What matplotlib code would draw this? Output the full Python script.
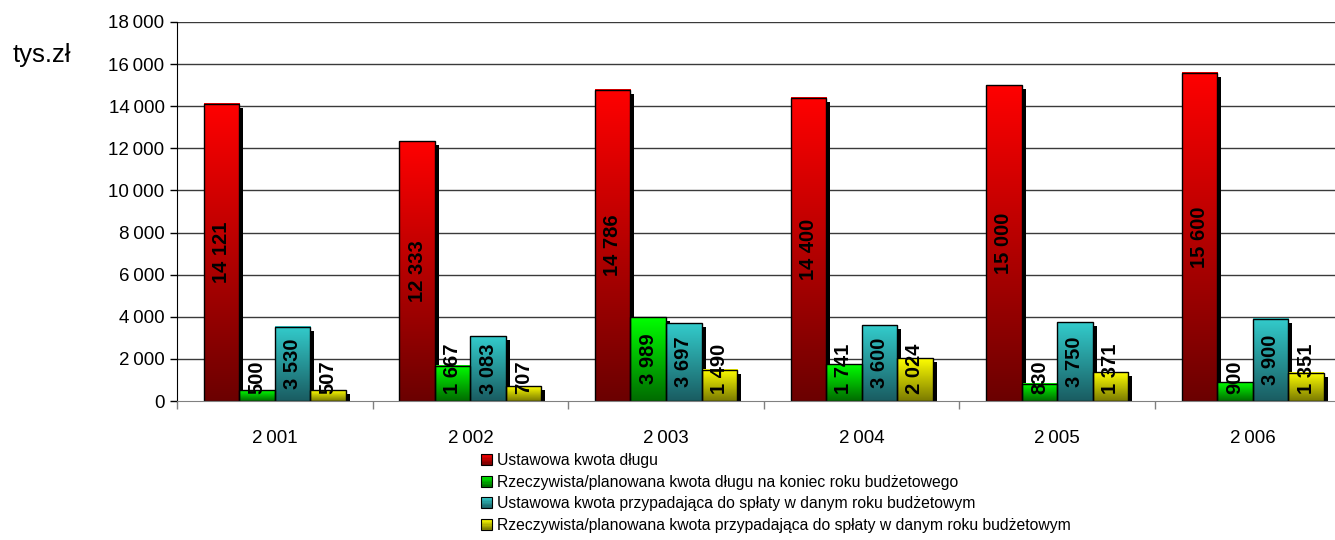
import numpy as np
import matplotlib
matplotlib.use("Agg")
import matplotlib.pyplot as plt
from matplotlib.patches import Rectangle, Patch
from matplotlib.legend_handler import HandlerBase
from matplotlib.colors import LinearSegmentedColormap

plt.rcParams['font.family'] = ['Liberation Sans', 'DejaVu Sans']

# ---- data (tys. zł) ----
years = ["2\u2009001", "2\u2009002", "2\u2009003", "2\u2009004", "2\u2009005", "2\u2009006"]
series_names = [
    "Ustawowa kwota długu",
    "Rzeczywista/planowana kwota długu na koniec roku budżetowego",
    "Ustawowa kwota przypadająca do spłaty w danym roku budżetowym",
    "Rzeczywista/planowana kwota przypadająca do spłaty w danym roku budżetowym",
]
debt_limit = [14121, 12333, 14786, 14400, 15000, 15600]
debt_actual = [500, 1667, 3989, 1741, 830, 900]
repay_limit = [3530, 3083, 3697, 3600, 3750, 3900]
repay_actual = [507, 707, 1490, 2024, 1371, 1351]
series = [debt_limit, debt_actual, repay_limit, repay_actual]
y_ticks = list(range(0, 18001, 2000))

# gradient colours: (top, bottom)
grad = [
    ((1.00, 0.00, 0.00), (0.42, 0.00, 0.00)),
    ((0.00, 1.00, 0.00), (0.00, 0.42, 0.00)),
    ((0.20, 0.80, 0.80), (0.10, 0.36, 0.38)),
    ((1.00, 1.00, 0.00), (0.48, 0.48, 0.00)),
]

W, H = 1335, 540
fig = plt.figure(figsize=(W / 100, H / 100), dpi=100)
fig.patch.set_facecolor("white")
ax_left, ax_bottom, ax_w, ax_h = 177, 139, 1173.6, 379
ax = fig.add_axes([ax_left / W, ax_bottom / H, ax_w / W, ax_h / H])
ax.set_xlim(-0.5, len(years) - 0.5)
ax.set_ylim(0, 18000)

px_x = (len(years)) / ax_w       # data units per pixel (x)
px_y = 18000 / ax_h               # data units per pixel (y)

# grid
for t in y_ticks[1:]:
    ax.axhline(t, color="#3a3a3a", lw=1.0, zorder=0.5)

bw = 0.1815
sh_dx, sh_dy = 4 * px_x, 4 * px_y
x = np.arange(len(years))

for j, vals in enumerate(series):
    top, bot = grad[j]
    cmap = LinearSegmentedColormap.from_list(f"g{j}", [bot, top])
    for i, v in enumerate(vals):
        x0 = x[i] + (j - 2) * bw
        # shadow
        ax.add_patch(Rectangle((x0 + sh_dx, 0), bw, max(v - sh_dy, 0),
                               facecolor="black", edgecolor="none", zorder=1))
        # gradient body
        ax.imshow(np.linspace(0, 1, 256).reshape(-1, 1), cmap=cmap,
                  extent=(x0, x0 + bw, 0, v), origin="lower",
                  aspect="auto", zorder=2, interpolation="bilinear")
        ax.add_patch(Rectangle((x0, 0), bw, v, facecolor="none",
                               edgecolor="black", lw=1.0, zorder=3))

ax.set_xlim(-0.5, len(years) - 0.5)
ax.set_ylim(0, 18000)

# value labels
def fmt(v):
    return f"{v:,}".replace(",", " ")

texts = []
for j, vals in enumerate(series):
    for i, v in enumerate(vals):
        xc = x[i] + (j - 1.5) * bw
        t = ax.text(xc, v / 2, fmt(v), rotation=90, ha="center", va="center",
                    fontsize=14.5, fontweight="bold", color="black", zorder=4)
        texts.append(t)

fig.canvas.draw()
renderer = fig.canvas.get_renderer()
for t in texts:
    bb = t.get_window_extent(renderer)
    axis_px = ax.transData.transform((0, 0))[1]
    min_bottom = axis_px + 7
    if bb.y0 < min_bottom:
        shift = min_bottom - bb.y0
        xc, yc = t.get_position()
        yc_px = ax.transData.transform((xc, yc))[1] + shift
        t.set_y(ax.transData.inverted().transform((0, yc_px))[1])

# axes styling
for s in ("top", "right"):
    ax.spines[s].set_visible(False)
ax.spines["left"].set_color("black")
ax.spines["bottom"].set_color("#808080")
ax.spines["bottom"].set_zorder(5)

ax.set_yticks(y_ticks)
ax.set_yticklabels([fmt(v).replace(" ", "\u2009") for v in y_ticks], fontsize=13.5)
ax.tick_params(axis="y", length=5, width=1, pad=4, color="black")

ax.set_xticks(np.arange(-0.5, len(years), 1.0))
ax.set_xticklabels([])
ax.tick_params(axis="x", which="major", length=6, width=1, color="#808080")
ax.set_xticks(x, minor=True)
ax.set_xticklabels(years, minor=True, fontsize=13.5)
ax.tick_params(axis="x", which="minor", length=0, pad=21)

fig.text(13 / W, 1 - 55 / H, "tys.zł", fontsize=18.5, va="center", ha="left")


class GradientHandler(HandlerBase):
    def __init__(self, top, bot):
        super().__init__()
        self.top, self.bot = np.array(top), np.array(bot)

    def create_artists(self, legend, orig_handle, xdescent, ydescent,
                       width, height, fontsize, trans):
        n = 8
        arts = []
        for k in range(n):
            f = (k + 0.5) / n
            c = self.bot + (self.top - self.bot) * f
            r = Rectangle((-xdescent, -ydescent + height * k / n), width,
                          height / n, facecolor=c, edgecolor="none",
                          transform=trans)
            arts.append(r)
        arts.append(Rectangle((-xdescent, -ydescent), width, height,
                              facecolor="none", edgecolor="black", lw=0.8,
                              transform=trans))
        return arts


handles = [Patch(label=n) for n in series_names]
hmap = {h: GradientHandler(*grad[k]) for k, h in enumerate(handles)}
fig.legend(handles=handles, handler_map=hmap, loc="upper left",
           bbox_to_anchor=(481 / W, 1 - 453 / H), frameon=False,
           fontsize=11.3, handlelength=0.7, handleheight=0.7,
           handletextpad=0.3, labelspacing=0.42, borderpad=0, borderaxespad=0)

fig.savefig("out.png", dpi=100)
